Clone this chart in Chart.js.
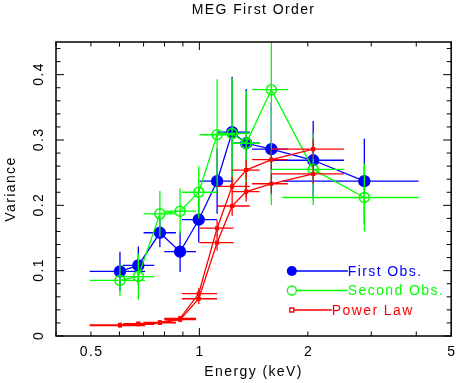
<!DOCTYPE html>
<html>
<head>
<meta charset="utf-8">
<script src="https://cdn.jsdelivr.net/npm/chart.js@4.4.0/dist/chart.umd.min.js"></script>
<style>
  html, body { margin: 0; padding: 0; background: #fff; }
  canvas { display: block; }
</style>
</head>
<body>
<canvas id="chart" width="458" height="383"></canvas>
<script>
// energy bins (keV) shared by the observations
const energy = [0.602, 0.677, 0.777, 0.884, 0.996, 1.12, 1.233, 1.349, 1.584, 2.07, 2.87];
const binLo  = [0.496, 0.614, 0.700, 0.799, 0.895, 1.00, 1.12, 1.23, 1.40, 1.58, 1.70];
const binHi  = [0.707, 0.750, 0.861, 0.979, 1.12, 1.244, 1.38, 1.47, 1.76, 2.52, 4.06];

const firstObs    = [0.099, 0.108, 0.158, 0.129, 0.178, 0.237, 0.312, 0.295, 0.286, 0.269, 0.237];
const firstErr    = [0.030, 0.029, 0.022, 0.031, 0.035, 0.050, 0.085, 0.083, 0.072, 0.060, 0.065];
const secondObs   = [0.085, 0.091, 0.187, 0.191, 0.220, 0.308, 0.310, 0.295, 0.377, 0.255, 0.212];
const secondErr   = [0.024, 0.035, 0.035, 0.035, 0.040, 0.085, 0.085, 0.080, 0.177, 0.055, 0.052];

// power law model (two curves, first 10 bins)
const powerLawA   = [0.017, 0.019, 0.021, 0.027, 0.065, 0.165, 0.229, 0.254, 0.270, 0.286];
const powerLawB   = [0.016, 0.018, 0.020, 0.025, 0.057, 0.143, 0.199, 0.221, 0.233, 0.248];
const powerLawErr = [0.003, 0.003, 0.003, 0.004, 0.008, 0.012, 0.015, 0.015, 0.015, 0.015];

// axes
const xLabels     = [0.5, 1, 2, 5];
const xMajorTicks = [1];
const xMinorTicks = [0.4, 0.5, 0.6, 0.7, 0.8, 0.9, 2, 3, 4, 5];
const yLabels     = [0, 0.1, 0.2, 0.3, 0.4];
const yMinorTicks = [0.02, 0.04, 0.06, 0.08, 0.12, 0.14, 0.16, 0.18, 0.22, 0.24, 0.26, 0.28,
                     0.32, 0.34, 0.36, 0.38, 0.42, 0.44];

const BLUE = '#0000ff', GREEN = '#00ff00', RED = '#ff0000';
const FONT = '14px "Liberation Sans", Arial, sans-serif';

function pts(xs, ys) { return ys.map((y, i) => ({ x: xs[i], y: y })); }

// error bars, drawn just before each dataset
const errorBars = {
  id: 'errorBars',
  beforeDatasetDraw(chart, args) {
    const ds = chart.data.datasets[args.index];
    if (!ds.yErr) return;
    const { ctx, chartArea: a, scales: { x, y } } = chart;
    ctx.save();
    ctx.beginPath();
    ctx.rect(a.left, a.top, a.right - a.left, a.bottom - a.top);
    ctx.clip();
    ctx.strokeStyle = ds.borderColor;
    ctx.lineWidth = 1.3;
    ds.data.forEach((p, i) => {
      const px = x.getPixelForValue(p.x), py = y.getPixelForValue(p.y);
      ctx.beginPath();
      ctx.moveTo(x.getPixelForValue(ds.xLo[i]), py);
      ctx.lineTo(x.getPixelForValue(ds.xHi[i]), py);
      ctx.moveTo(px, y.getPixelForValue(p.y - ds.yErr[i]));
      ctx.lineTo(px, y.getPixelForValue(p.y + ds.yErr[i]));
      ctx.stroke();
    });
    ctx.restore();
  }
};

// frame, inward ticks, labels, titles and legend
const decor = {
  id: 'decor',
  afterDraw(chart) {
    const { ctx, chartArea: a, scales: { x, y } } = chart;
    ctx.save();
    ctx.strokeStyle = '#000';
    ctx.lineWidth = 1.5;
    ctx.strokeRect(a.left, a.top, a.right - a.left, a.bottom - a.top);

    ctx.lineWidth = 1;
    ctx.beginPath();
    const xt = (v, len) => {
      const px = x.getPixelForValue(v);
      ctx.moveTo(px, a.bottom); ctx.lineTo(px, a.bottom - len);
      ctx.moveTo(px, a.top); ctx.lineTo(px, a.top + len);
    };
    const yt = (v, len) => {
      const py = y.getPixelForValue(v);
      ctx.moveTo(a.left, py); ctx.lineTo(a.left + len, py);
      ctx.moveTo(a.right, py); ctx.lineTo(a.right - len, py);
    };
    xMinorTicks.forEach(v => xt(v, 4.5));
    xMajorTicks.forEach(v => xt(v, 8));
    yMinorTicks.forEach(v => yt(v, 4.5));
    yLabels.forEach(v => yt(v, 8));
    ctx.stroke();

    ctx.fillStyle = '#000';
    ctx.font = FONT;
    ctx.letterSpacing = '1.4px';
    ctx.textAlign = 'center';
    ctx.textBaseline = 'middle';
    xLabels.forEach(v => ctx.fillText(String(v), x.getPixelForValue(v) + 0.7, a.bottom + 16));
    yLabels.forEach(v => {
      ctx.save();
      ctx.translate(a.left - 17, y.getPixelForValue(v) - 0.7);
      ctx.rotate(-Math.PI / 2);
      ctx.fillText(String(v), 0, 0);
      ctx.restore();
    });

    ctx.fillText('MEG First Order', (a.left + a.right) / 2, 10);
    ctx.fillText('Energy (keV)', (a.left + a.right) / 2, a.bottom + 36);
    ctx.save();
    ctx.translate(11, (a.top + a.bottom) / 2);
    ctx.rotate(-Math.PI / 2);
    ctx.fillText('Variance', 0, 0);
    ctx.restore();

    // legend
    const items = [
      { ds: chart.data.datasets[0], len: 56 },
      { ds: chart.data.datasets[1], len: 56 },
      { ds: chart.data.datasets[2], len: 40 }
    ];
    const lx = x.getPixelForValue(2) - 16;
    ctx.textAlign = 'left';
    items.forEach((it, i) => {
      const ly = a.bottom - 65 + i * 19.5;
      const c = it.ds.borderColor;
      ctx.strokeStyle = c;
      ctx.fillStyle = c;
      ctx.lineWidth = 1.3;
      ctx.beginPath();
      ctx.moveTo(lx, ly); ctx.lineTo(lx + it.len, ly);
      ctx.stroke();
      ctx.beginPath();
      if (i === 0) {
        ctx.arc(lx, ly, 5, 0, Math.PI * 2); ctx.fill();
      } else if (i === 1) {
        ctx.fillStyle = '#fff';
        ctx.arc(lx, ly, 4.5, 0, Math.PI * 2); ctx.fill(); ctx.stroke();
        ctx.fillStyle = c;
      } else {
        ctx.fillStyle = '#fff';
        ctx.rect(lx - 2, ly - 2, 4, 4); ctx.fill(); ctx.stroke();
        ctx.fillStyle = c;
      }
      ctx.fillText(it.ds.label, lx + it.len, ly + 1);
    });
    ctx.restore();
  }
};

new Chart(document.getElementById('chart'), {
  type: 'scatter',
  data: {
    datasets: [
      {
        label: 'First Obs.',
        data: pts(energy, firstObs),
        xLo: binLo, xHi: binHi, yErr: firstErr,
        showLine: true,
        borderColor: BLUE, backgroundColor: BLUE,
        borderWidth: 1.3,
        pointRadius: 5.5, pointStyle: 'circle',
        order: 2
      },
      {
        label: 'Second Obs.',
        data: pts(energy, secondObs),
        xLo: binLo, xHi: binHi, yErr: secondErr,
        showLine: true,
        borderColor: GREEN, backgroundColor: 'rgba(0,0,0,0)',
        borderWidth: 1.3,
        pointRadius: 5, pointBorderWidth: 1.5, pointStyle: 'circle',
        order: 1
      },
      {
        label: 'Power Law',
        data: pts(energy, powerLawA),
        xLo: binLo, xHi: binHi, yErr: powerLawErr,
        showLine: true,
        borderColor: RED, backgroundColor: 'rgba(255,0,0,0.25)',
        borderWidth: 1.3,
        pointRadius: 2, pointStyle: 'rect',
        order: 0
      },
      {
        label: 'Power Law',
        data: pts(energy, powerLawB),
        xLo: binLo, xHi: binHi, yErr: powerLawErr,
        showLine: true,
        borderColor: RED, backgroundColor: 'rgba(255,0,0,0.25)',
        borderWidth: 1.3,
        pointRadius: 2, pointStyle: 'rect',
        order: 0
      }
    ]
  },
  options: {
    responsive: false,
    animation: false,
    devicePixelRatio: 1,
    layout: { padding: { left: 56, right: 5, top: 42, bottom: 47 } },
    plugins: { legend: { display: false }, tooltip: { enabled: false } },
    scales: {
      x: { type: 'logarithmic', min: 0.4, max: 5, display: false },
      y: { type: 'linear', min: 0, max: 0.45, display: false }
    }
  },
  plugins: [errorBars, decor]
});
</script>
</body>
</html>
